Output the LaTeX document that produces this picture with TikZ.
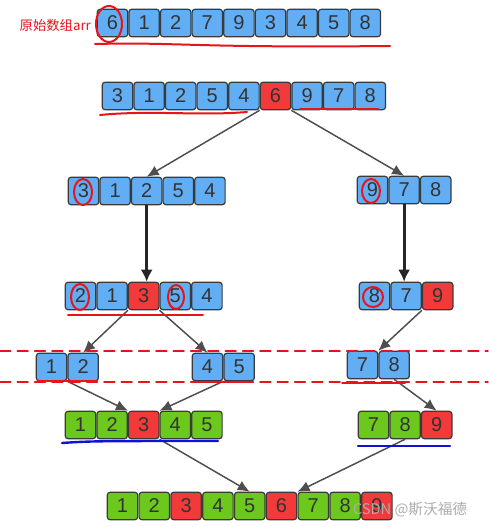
\documentclass[tikz,border=0pt]{standalone}
\usepackage{fontspec}
\setmainfont{Liberation Sans}
\newfontfamily\cjk{Noto Sans CJK SC}
\usetikzlibrary{arrows.meta,calc}
\definecolor{cblue}{HTML}{62AEF5}
\definecolor{cred}{HTML}{F23A3A}
\definecolor{cgreen}{HTML}{6CC81C}
\definecolor{cborder}{HTML}{3A3A3A}
\definecolor{ctext}{HTML}{333333}
\definecolor{cpen}{HTML}{E8141C}
\definecolor{cink}{HTML}{1010D8}
\tikzset{
  cell/.style={draw=cborder, line width=0.9pt, rounded corners=2pt, minimum width=22.8pt,
    minimum height=20.5pt, inner sep=0pt, text=ctext, font=\fontsize{15}{18}\selectfont},
  split/.style={draw=cborder!90, line width=1.1pt, -{Latex[length=9pt,width=8pt]}},
  down/.style={draw=black!85, line width=2.2pt, -{Latex[length=9pt,width=9pt]}},
  pen/.style={draw=cpen, line width=1.5pt, line cap=round},
  ink/.style={draw=cink, line width=1.8pt, line cap=round},
}
\begin{document}
\begin{tikzpicture}[x=0.75pt, y=-0.75pt]
\useasboundingbox[fill=white] (0,0) rectangle (488,527);
% original array
\node[text=cpen, font=\cjk\fontsize{10}{12}\selectfont, anchor=west] (lbl) at (15,25) {原始数组arr};
\foreach \v/\c [count=\i] in {6/cblue,1/cblue,2/cblue,7/cblue,9/cblue,3/cblue,4/cblue,5/cblue,8/cblue}
  \node[cell, fill=\c] (a\i) at ({97+15.5+(\i-1)*31.6},23) {\v};
% first partition
\foreach \v/\c [count=\i] in {3/cblue,1/cblue,2/cblue,5/cblue,4/cblue,6/cred,9/cblue,7/cblue,8/cblue}
  \node[cell, fill=\c] (b\i) at ({102+15.5+(\i-1)*31.6},96) {\v};
% left and right halves
\foreach \v/\c [count=\i] in {3/cblue,1/cblue,2/cblue,5/cblue,4/cblue}
  \node[cell, fill=\c] (cl\i) at ({68+15.5+(\i-1)*31.6},191) {\v};
\foreach \v/\c [count=\i] in {9/cblue,7/cblue,8/cblue}
  \node[cell, fill=\c] (cr\i) at ({357+15.5+(\i-1)*31.6},190) {\v};
\foreach \v/\c [count=\i] in {2/cblue,1/cblue,3/cred,5/cblue,4/cblue}
  \node[cell, fill=\c] (dl\i) at ({65+15.5+(\i-1)*31.6},296) {\v};
\foreach \v/\c [count=\i] in {8/cblue,7/cblue,9/cred}
  \node[cell, fill=\c] (dr\i) at ({359+15.5+(\i-1)*31.6},296) {\v};
% pairs
\foreach \v/\c [count=\i] in {1/cblue,2/cblue}
  \node[cell, fill=\c] (ea\i) at ({36+15.5+(\i-1)*31.6},367) {\v};
\foreach \v/\c [count=\i] in {4/cblue,5/cblue}
  \node[cell, fill=\c] (eb\i) at ({192+15.5+(\i-1)*31.6},367) {\v};
\foreach \v/\c [count=\i] in {7/cblue,8/cblue}
  \node[cell, fill=\c] (ec\i) at ({347+15.5+(\i-1)*31.6},365) {\v};
% sorted parts
\foreach \v/\c [count=\i] in {1/cgreen,2/cgreen,3/cred,4/cgreen,5/cgreen}
  \node[cell, fill=\c] (fl\i) at ({65+15.5+(\i-1)*31.6},425) {\v};
\foreach \v/\c [count=\i] in {7/cgreen,8/cgreen,9/cred}
  \node[cell, fill=\c] (fr\i) at ({358+15.5+(\i-1)*31.6},425) {\v};
% result
\foreach \v/\c [count=\i] in {1/cgreen,2/cgreen,3/cred,4/cgreen,5/cgreen,6/cred,7/cgreen,8/cgreen,9/cred}
  \node[cell, fill=\c] (g\i) at ({107+15.5+(\i-1)*31.8},506) {\v};
% arrows
\draw[split] (b5.south east) -- (cl3.north);
\draw[split] (b6.south east) -- (cr2.north);
\draw[down] (cl3.south) -- (cl3.south |- dl3.north);
\draw[down] (cr2.south) -- (cr2.south |- dr2.north);
\draw[split] (dl2.south east) -- (ea2.north);
\draw[split] (dl3.south east) -- (eb1.north);
\draw[split] (dr3.south west) -- (ec2.north west);
\draw[split] (ea2.south west) -- (fl2.north east);
\draw[split] (eb1.south east) -- (fl4.north west);
\draw[split] (ec2.south) -- (fr3.north);
\draw[split] (fl3.south east) -- (g5.north);
\draw[split] (fr2.south) -- (g7.north west);
% hand marks
\draw[pen] (109,24) ellipse (13 and 18);
\draw[pen] (95,44) .. controls (180,42) and (190,48) .. (390,46);
\draw[pen] (100,115) .. controls (150,110) and (200,116) .. (247,112);
\draw[pen] (300,109) -- (378,109);
\draw[pen] (83,192) ellipse (9 and 13);
\draw[pen] (371,191) ellipse (9 and 12);
\draw[pen] (80,297) ellipse (9 and 13);
\draw[pen] (176,297) ellipse (8 and 12);
\draw[pen] (373,297) ellipse (10 and 10);
\draw[pen] (68,315) -- (203,315);
\draw[pen, dashed, dash pattern=on 8pt off 5pt, line width=1.2pt] (0,351) -- (488,351);
\draw[pen, dashed, dash pattern=on 8pt off 5pt, line width=1.2pt] (0,382) -- (488,382);
\draw[pen] (38,381) -- (97,381);
\draw[pen] (194,382) -- (252,382);
\draw[pen] (342,383) -- (405,383);
\draw[ink] (62,443) .. controls (90,441) and (100,441) .. (218,441);
\draw[ink] (358,446) -- (450,446);
% watermark
\node[text=gray!65, font=\cjk\fontsize{11}{13}\selectfont] (wm) at (410,510) {CSDN @斯沃福德};
\end{tikzpicture}
\end{document}
